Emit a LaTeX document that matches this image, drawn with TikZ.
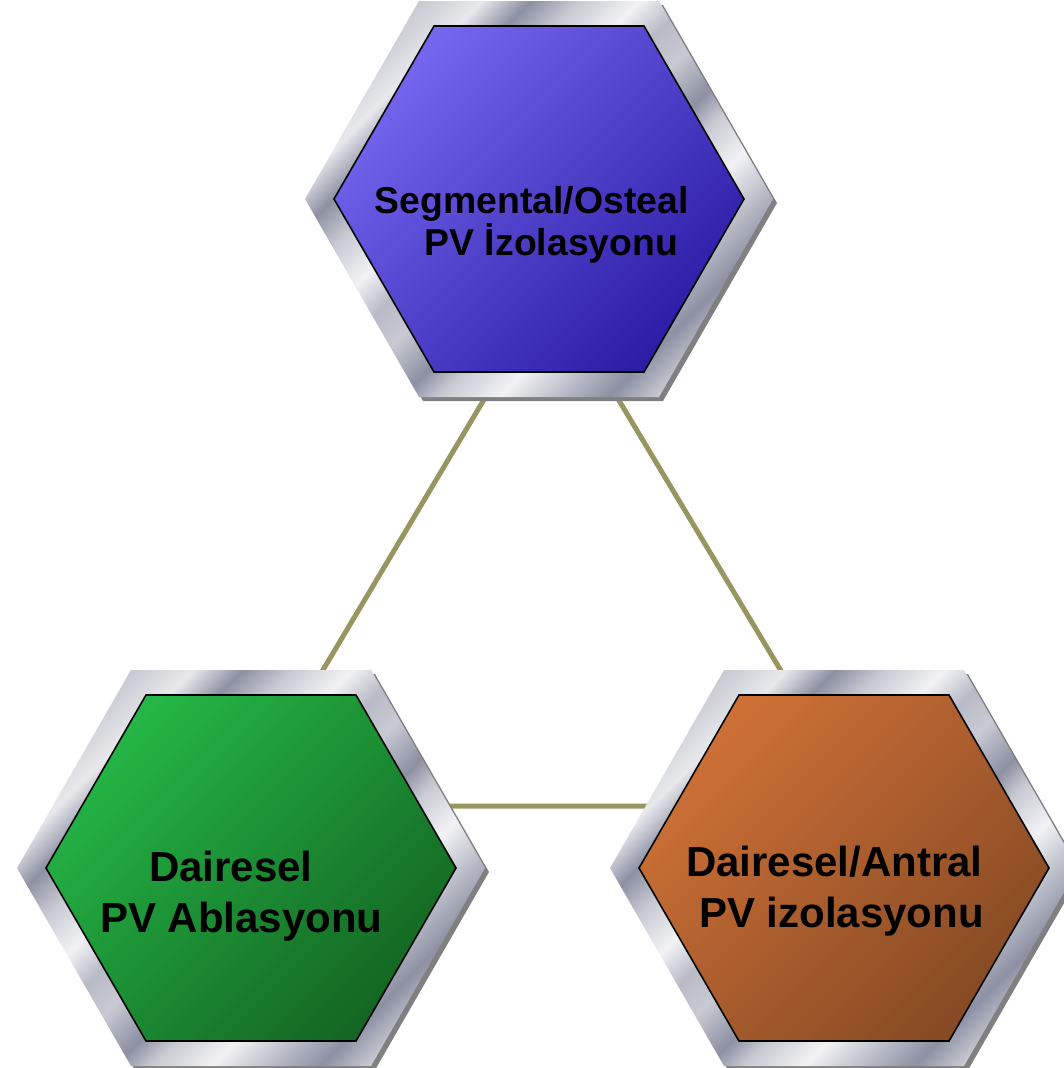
\documentclass[tikz,border=0pt]{standalone}
\usepackage{fontspec}
\setmainfont{Liberation Sans}
\definecolor{blueL}{RGB}{116,102,238}
\definecolor{blueD}{RGB}{44,28,166}
\definecolor{greenL}{RGB}{36,182,70}
\definecolor{greenD}{RGB}{20,102,34}
\definecolor{orL}{RGB}{206,112,54}
\definecolor{orD}{RGB}{134,74,36}
\definecolor{linkc}{RGB}{152,150,96}
\definecolor{shadowc}{RGB}{128,128,128}
\definecolor{mA}{RGB}{200,202,210}
\definecolor{mB}{RGB}{232,232,236}
\definecolor{mC}{RGB}{140,144,162}
\definecolor{mD}{RGB}{242,242,245}
\definecolor{mE}{RGB}{184,187,198}
\pgfdeclarehorizontalshading{metal}{100bp}{color(0bp)=(mA); color(24bp)=(mA); color(29bp)=(mB); color(33bp)=(mC); color(37bp)=(mA); color(42bp)=(mD); color(46bp)=(mE); color(50bp)=(mA); color(55bp)=(mC); color(58bp)=(mA); color(63bp)=(mD); color(68bp)=(mE); color(72bp)=(mC); color(76bp)=(mA); color(100bp)=(mA)}
\tikzset{
  link/.style={draw=linkc, line width=5pt},
  lblS/.style={inner sep=0pt, anchor=base west, text=black, font=\bfseries\fontsize{37.4}{42}\selectfont},
  lblL/.style={inner sep=0pt, anchor=base west, text=black, font=\bfseries\fontsize{42}{50}\selectfont},
  innerborder/.style={draw=black, line width=1.6pt, line join=miter},
}
\newcommand\hexframe[3]{% center coordinate name, light color, dark color
  \begin{scope}[shift={(#1)}]
    \fill[shadowc] (-230,4) -- (-116,-194) -- (124,-194) -- (238,4) -- (124,202) -- (-116,202) -- cycle;
    \path[shading=metal, shading angle=-45] (-234,0) -- (-120,-198) -- (120,-198) -- (234,0) -- (120,198) -- (-120,198) -- cycle;
    \path[innerborder, top color=#2, bottom color=#3, shading angle=45] (-205,0) -- (-105,-173) -- (105,-173) -- (205,0) -- (105,173) -- (-105,173) -- cycle;
  \end{scope}}
\begin{document}
\begin{tikzpicture}[x=1pt, y=-1pt]
  \useasboundingbox (0,0) rectangle (1064,1068);
  \clip (0,0) rectangle (1064,1068);
  % hexagon centres
  \coordinate (seg) at (539,199);
  \coordinate (dai) at (251,868);
  \coordinate (ant) at (844,868);
  % connector triangle corners (hidden behind the hexagons)
  \coordinate (ta) at (551,287);
  \coordinate (tb) at (242,806);
  \coordinate (tc) at (862,806);
  \draw[link] (ta) -- (tb) -- (tc) -- cycle;
  % hexagons
  \hexframe{seg}{blueL}{blueD}
  \hexframe{dai}{greenL}{greenD}
  \hexframe{ant}{orL}{orD}
  % labels
  \node[lblS] (segA) at (374.5,213) {Segmental/Osteal};
  \node[lblS] (segB) at (424.5,255) {PV İzolasyonu};
  \node[lblL] (daiA) at (149,881) {Dairesel};
  \node[lblL] (daiB) at (100,932) {PV Ablasyonu};
  \node[lblL] (antA) at (686,876) {Dairesel/Antral};
  \node[lblL] (antB) at (699,927) {PV izolasyonu};
\end{tikzpicture}
\end{document}
